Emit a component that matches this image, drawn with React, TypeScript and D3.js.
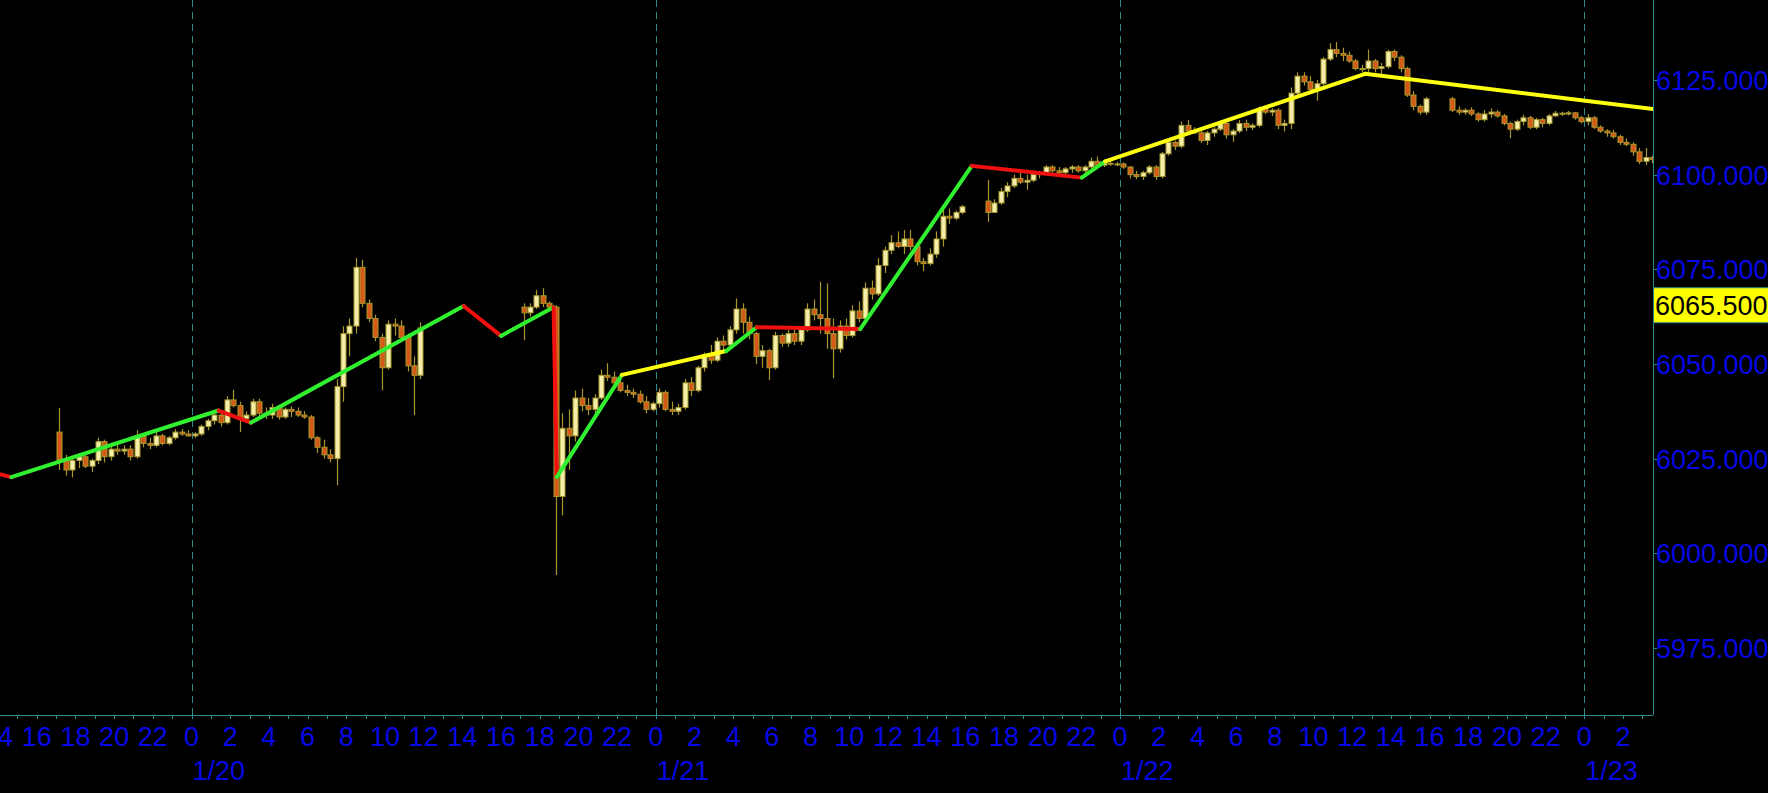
import React from "react";
import * as d3 from "d3";

// ---------- DATA ----------
// 20-minute OHLC bars, one array per trading session: [open, high, low, close]
const session1Start = "2025-01-19 17:00";
const session1Bars: number[][] = [
  [6032, 6038.4, 6022, 6024.5],
  [6024.5, 6026, 6020.5, 6022],
  [6022, 6025.5, 6020, 6024.5],
  [6024.5, 6026.5, 6022.5, 6025.5],
  [6025.5, 6026.5, 6022.5, 6023],
  [6023, 6025, 6021.5, 6024.5],
  [6024.5, 6030.5, 6023.5, 6029.5],
  [6029.5, 6030, 6024, 6025.5],
  [6025.5, 6028.5, 6024.5, 6027.5],
  [6027.5, 6029, 6026, 6027],
  [6027, 6028.5, 6026, 6027.5],
  [6027.5, 6028.5, 6024.5, 6025.5],
  [6025.5, 6032.5, 6025, 6031],
  [6031, 6031.5, 6028, 6029],
  [6029, 6030.5, 6027.5, 6028.5],
  [6028.5, 6032, 6028, 6031],
  [6031, 6031.5, 6028.5, 6029],
  [6029, 6031, 6028.5, 6030.5],
  [6030.5, 6032.8, 6030, 6032],
  [6032, 6032.8, 6031, 6031.5],
  [6031.5, 6032.5, 6030.8, 6031],
  [6031, 6032, 6030.5, 6031.5],
  [6031.5, 6034, 6031, 6033.5],
  [6033.5, 6035.5, 6032.5, 6035],
  [6035, 6037.5, 6034, 6036.5],
  [6036.5, 6037, 6033.5, 6034.5],
  [6034.5, 6041.5, 6034, 6040.5],
  [6040.5, 6043.2, 6038.5, 6039],
  [6039, 6040, 6032, 6035.5],
  [6035.5, 6037.5, 6034.5, 6036.5],
  [6036.5, 6040.8, 6036, 6040],
  [6040, 6040.8, 6036, 6037],
  [6037, 6038.5, 6035.5, 6036.5],
  [6036.5, 6039.5, 6035.5, 6038.5],
  [6038.5, 6039, 6035.3, 6036],
  [6036, 6038.5, 6035.5, 6038],
  [6038, 6038.8, 6036, 6037.5],
  [6037.5, 6038.5, 6036, 6036.5],
  [6036.5, 6037.5, 6035.5, 6036],
  [6036, 6036.5, 6030, 6030.5],
  [6030.5, 6031, 6026.5, 6028],
  [6028, 6030, 6025, 6026],
  [6026, 6027.5, 6024, 6025],
  [6025, 6046, 6018, 6044],
  [6044, 6060, 6040, 6058],
  [6058, 6062, 6052, 6060],
  [6060, 6078, 6058, 6075.5],
  [6075.5, 6077.5, 6065, 6066],
  [6066, 6067, 6061, 6062],
  [6062, 6063, 6056, 6057],
  [6057, 6058, 6043, 6049],
  [6049, 6061.5, 6048.5, 6060.5],
  [6060.5, 6062, 6057.5, 6060],
  [6060, 6061.5, 6056, 6057],
  [6057, 6058, 6048, 6049.5],
  [6049.5, 6052, 6036.5, 6047],
  [6047, 6061, 6046, 6059.5],
];

const session2Start = "2025-01-20 17:00";
const session2Bars: number[][] = [
  [6065, 6066, 6056.3, 6063.5],
  [6063.5, 6066, 6062.5, 6065],
  [6065, 6069.5, 6064.5, 6068],
  [6068, 6070, 6065, 6066],
  [6066, 6066.5, 6064, 6065],
  [6065, 6065.5, 5994.3, 6015],
  [6015, 6037, 6010, 6033],
  [6033, 6038, 6022, 6031],
  [6031, 6043, 6029.5, 6041],
  [6041, 6043.5, 6037.5, 6039],
  [6039, 6041, 6036.5, 6038],
  [6038, 6042, 6037, 6041],
  [6041, 6048.5, 6040.5, 6047],
  [6047, 6050.2, 6045.5, 6046.5],
  [6046.5, 6048, 6044.5, 6045],
  [6045, 6047, 6042.5, 6043],
  [6043, 6044.5, 6041.5, 6042.5],
  [6042.5, 6043.5, 6041, 6042],
  [6042, 6043, 6039.5, 6040],
  [6040, 6041.5, 6037, 6038],
  [6038, 6040, 6037.5, 6039.5],
  [6039.5, 6043.5, 6038.5, 6042.5],
  [6042.5, 6043, 6037.5, 6038],
  [6038, 6040, 6036.5, 6037.5],
  [6037.5, 6039.5, 6036.5, 6038.5],
  [6038.5, 6046, 6038, 6045],
  [6045, 6046.5, 6041.5, 6043],
  [6043, 6049.5, 6042.5, 6049],
  [6049, 6053, 6048, 6052.5],
  [6052.5, 6055, 6050, 6051],
  [6051, 6057, 6050.5, 6056],
  [6056, 6057.5, 6053.5, 6055],
  [6055, 6060, 6054, 6059],
  [6059, 6067.3, 6058, 6064.5],
  [6064.5, 6066, 6058, 6061],
  [6061, 6062.5, 6056.5, 6058],
  [6058, 6058.5, 6050, 6052],
  [6052, 6055, 6049, 6053.5],
  [6053.5, 6054, 6045.8, 6049],
  [6049, 6058.5, 6048.5, 6057.5],
  [6057.5, 6058, 6054.5, 6055.5],
  [6055.5, 6059, 6054.5, 6058],
  [6058, 6059, 6055, 6056],
  [6056, 6059.5, 6055, 6059],
  [6059, 6066, 6058.5, 6064.5],
  [6064.5, 6067, 6061.5, 6063],
  [6063, 6071.7, 6058, 6062],
  [6062, 6071.3, 6054, 6058],
  [6058, 6062, 6046.2, 6054],
  [6054, 6061.5, 6053, 6060],
  [6060, 6062, 6056.5, 6057.5],
  [6057.5, 6065.5, 6057, 6064],
  [6064, 6066.5, 6061, 6062],
  [6062, 6071.5, 6061.5, 6070],
  [6070, 6072, 6067, 6068.5],
  [6068.5, 6078, 6068, 6076],
  [6076, 6081, 6074, 6080],
  [6080, 6084, 6079, 6082],
  [6082, 6085, 6080.5, 6081],
  [6081, 6085.3, 6079, 6083],
  [6083, 6085.4, 6080, 6081],
  [6081, 6081.5, 6076, 6077],
  [6077, 6078, 6074.5, 6076.5],
  [6076.5, 6080.5, 6076, 6079],
  [6079, 6085, 6078, 6083],
  [6083, 6090.7, 6081, 6089],
  [6089, 6091, 6087, 6088.5],
  [6088.5, 6090.5, 6088, 6090],
  [6090, 6092, 6089.5, 6091.5],
];

const session3Start = "2025-01-21 17:00";
const session3Bars: number[][] = [
  [6093, 6098.6, 6087.5, 6090],
  [6090, 6093.5, 6090, 6092.5],
  [6092.5, 6096.5, 6092, 6095.5],
  [6095.5, 6098, 6094, 6097],
  [6097, 6100, 6096.5, 6099],
  [6099, 6101.5, 6097.5, 6098],
  [6098, 6100, 6096, 6098.5],
  [6098.5, 6100.5, 6098, 6100],
  [6100, 6101, 6099, 6100.5],
  [6100.5, 6102.5, 6100, 6102],
  [6102, 6102.5, 6100.5, 6101],
  [6101, 6102, 6099.5, 6100.5],
  [6100.5, 6102, 6100, 6101.5],
  [6101.5, 6102.5, 6100.5, 6102],
  [6102, 6102.5, 6100.5, 6101],
  [6101, 6102.5, 6100, 6102],
  [6102, 6104.5, 6101.5, 6103.5],
  [6103.5, 6104.8, 6102, 6102.5],
  [6102.5, 6103.5, 6102, 6103],
  [6103, 6103.5, 6102.3, 6102.8],
  [6102.8, 6103.3, 6102.3, 6102.8],
  [6102.8, 6103.2, 6101.5, 6102],
  [6102, 6102.3, 6099, 6100],
  [6100, 6101, 6098.8, 6099.5],
  [6099.5, 6101, 6098.6, 6100.5],
  [6100.5, 6102.5, 6100, 6102],
  [6102, 6102.5, 6098.6, 6099.5],
  [6099.5, 6106, 6099, 6105.5],
  [6105.5, 6109.2, 6105, 6108.5],
  [6108.5, 6109, 6106.5, 6107.5],
  [6107.5, 6114, 6107, 6113],
  [6113, 6114.4, 6110.5, 6111.5],
  [6111.5, 6112.5, 6110.8, 6111],
  [6111, 6111.5, 6108.3, 6109],
  [6109, 6111.5, 6107.8, 6111],
  [6111, 6112.5, 6110, 6112],
  [6112, 6114.2, 6111.5, 6113.5],
  [6113.5, 6114, 6109.5, 6110.5],
  [6110.5, 6112, 6108.7, 6111.5],
  [6111.5, 6114.4, 6111, 6113.5],
  [6113.5, 6114.5, 6111.5, 6112.5],
  [6112.5, 6113.5, 6111.8, 6113],
  [6113, 6118, 6112.5, 6117.5],
  [6117.5, 6118.2, 6116, 6116.5],
  [6116.5, 6117.5, 6115.5, 6117],
  [6117, 6117.5, 6112, 6113],
  [6113, 6114.5, 6111.4, 6113.5],
  [6113.5, 6123, 6112, 6121.5],
  [6121.5, 6127, 6121, 6126],
  [6126, 6127, 6123.5, 6124.5],
  [6124.5, 6126, 6121.5, 6122.5],
  [6122.5, 6125, 6119.5, 6124],
  [6124, 6131, 6123.5, 6130.5],
  [6130.5, 6134.7, 6130, 6133],
  [6133, 6135, 6131, 6132],
  [6132, 6133.5, 6130, 6131.5],
  [6131.5, 6132.5, 6129.5, 6130],
  [6130, 6130.5, 6127.5, 6128],
  [6128, 6129, 6127, 6128],
  [6128, 6133, 6126.8, 6130],
  [6130, 6130.5, 6127, 6128],
  [6128, 6129.5, 6126.5, 6128.5],
  [6128.5, 6133, 6128, 6132.5],
  [6132.5, 6133, 6130, 6131],
  [6131, 6131.5, 6127, 6128],
  [6128, 6128.5, 6120.5, 6121],
  [6121, 6122, 6117, 6118],
  [6118, 6118.5, 6115.8, 6116.5],
  [6116.5, 6120.5, 6115.8, 6120],
];

const session4Start = "2025-01-22 17:00";
const session4Bars: number[][] = [
  [6120, 6120.5, 6116.5, 6117],
  [6117, 6118, 6115.8, 6116.5],
  [6116.5, 6117.5, 6115.8, 6117],
  [6117, 6117.8, 6115.5, 6116],
  [6116, 6116.5, 6114, 6114.5],
  [6114.5, 6117, 6114, 6116],
  [6116, 6117.5, 6115, 6116.5],
  [6116.5, 6117, 6115, 6115.5],
  [6115.5, 6116, 6113, 6113.5],
  [6113.5, 6114, 6109.6, 6112],
  [6112, 6114.5, 6111.5, 6114],
  [6114, 6115.8, 6113, 6115],
  [6115, 6115.5, 6112, 6112.5],
  [6112.5, 6115, 6112, 6114.5],
  [6114.5, 6115, 6112.5, 6113.5],
  [6113.5, 6116, 6113, 6115.5],
  [6115.5, 6116.8, 6115.3, 6116.2],
  [6116.2, 6116.6, 6115.5, 6116],
  [6116, 6116.8, 6115.6, 6116.3],
  [6116.3, 6116.5, 6114.5, 6115],
  [6115, 6115.5, 6113.5, 6114],
  [6114, 6116, 6113, 6115],
  [6115, 6115.5, 6112, 6112.5],
  [6112.5, 6113, 6111, 6111.5],
  [6111.5, 6112, 6110, 6111],
  [6111, 6111.8, 6109.5, 6110],
  [6110, 6110.5, 6107.8, 6108.5],
  [6108.5, 6109.5, 6107.5, 6108],
  [6108, 6108.5, 6105, 6106],
  [6106, 6107, 6102.8, 6103.5],
  [6103.5, 6107, 6102.5, 6104.5],
  [6104.5, 6105, 6103, 6104],
];

// ZigZag swing points and the colour of each leg
const zigzagTimes = [
  "2025-01-19 14:00", "2025-01-19 14:41", "2025-01-20 01:24", "2025-01-20 03:04",
  "2025-01-20 14:04", "2025-01-20 16:00", "2025-01-20 18:43", "2025-01-20 18:53",
  "2025-01-20 22:15", "2025-01-21 03:38", "2025-01-21 05:13", "2025-01-21 10:34",
  "2025-01-21 16:20", "2025-01-21 22:01", "2025-01-21 23:14", "2025-01-22 12:40",
  "2025-01-23 03:34",
];
const zigzagPrices = [
  6021.0, 6020.1, 6037.7, 6034.5, 6065.3, 6057.4, 6065.0, 6020.1, 6047.1,
  6053.4, 6059.7, 6059.2, 6102.3, 6099.2, 6103.5, 6126.6, 6117.3,
];
const zigzagLegColors = [
  "red", "green", "red", "green", "red", "green", "red", "green",
  "yellow", "green", "red", "green", "red", "green", "yellow", "yellow",
];

const yTickValues = [5975, 6000, 6025, 6050, 6075, 6100, 6125];
const lastPrice = 6065.5;
const viewStart = "2025-01-19 14:06";
const viewEnd = "2025-01-23 03:33";
const priceDomain = [5957.3, 6146.1];

// ---------- STYLE ----------
const W = 1768;
const H = 793;
const plotRight = 1653;
const plotBottom = 715;
const AXIS = "#2b8a8a";
const LABEL = "#0808e6";
const FONT = "'Liberation Sans', Arial, sans-serif";
const FS = 27;
const legColor: Record<string, string> = {
  red: "#f01010",
  green: "#30f030",
  yellow: "#ffff10",
};

const parse = d3.timeParse("%Y-%m-%d %H:%M");

type Bar = { t: Date; o: number; h: number; l: number; c: number };

function buildBars(start: string, rows: number[][]): Bar[] {
  const s = parse(start) as Date;
  return rows.map((r, i) => ({
    t: d3.timeMinute.offset(s, i * 20 + 10),
    o: r[0],
    h: r[1],
    l: r[2],
    c: r[3],
  }));
}

export default function App() {
  const x = d3
    .scaleTime()
    .domain([parse(viewStart) as Date, parse(viewEnd) as Date])
    .range([0, plotRight]);
  const y = d3.scaleLinear().domain(priceDomain).range([plotBottom, 0]);

  const bars: Bar[] = [
    ...buildBars(session1Start, session1Bars),
    ...buildBars(session2Start, session2Bars),
    ...buildBars(session3Start, session3Bars),
    ...buildBars(session4Start, session4Bars),
  ];

  const [d0, d1] = x.domain();
  const hours = d3.timeHour.range(d3.timeHour.floor(d0), d1);
  const days = d3.timeDay.range(d3.timeDay.ceil(d0), d1);
  const fmtDay = d3.timeFormat("%-m/%-d");
  const fmtPrice = d3.format(".3f");

  const zz = zigzagTimes.map((s, i) => ({ x: x(parse(s) as Date), y: y(zigzagPrices[i]) }));

  const bodyW = 5;

  return (
    <svg
      width={W}
      height={H}
      style={{ position: "fixed", left: 0, top: 0, background: "#000" }}
    >
      <rect x={0} y={0} width={W} height={H} fill="#000" />
      <defs>
        <clipPath id="plot">
          <rect x={0} y={0} width={plotRight} height={plotBottom} />
        </clipPath>
      </defs>

      {/* day separators */}
      {days.map((d, i) => (
        <line
          key={"g" + i}
          x1={Math.round(x(d)) + 0.5}
          x2={Math.round(x(d)) + 0.5}
          y1={0}
          y2={plotBottom}
          stroke={AXIS}
          strokeWidth={1}
          strokeDasharray="7,5"
        />
      ))}

      <g clipPath="url(#plot)">
        {bars.map((b, i) => {
          const cx = Math.round(x(b.t)) + 0.5;
          const up = b.c >= b.o;
          const top = y(Math.max(b.o, b.c));
          const bot = y(Math.min(b.o, b.c));
          return (
            <g key={"b" + i}>
              <line x1={cx} x2={cx} y1={y(b.h)} y2={y(b.l)} stroke="#a8982c" strokeWidth={1.2} />
              <rect
                x={cx - bodyW / 2}
                y={top}
                width={bodyW}
                height={Math.max(1, bot - top)}
                fill={up ? "#f4eeaa" : "#d55a1a"}
                stroke="#a8982c"
                strokeWidth={1}
              />
            </g>
          );
        })}

        {zz.slice(1).map((p, i) => (
          <line
            key={"z" + i}
            x1={zz[i].x}
            y1={zz[i].y}
            x2={p.x}
            y2={p.y}
            stroke={legColor[zigzagLegColors[i]]}
            strokeWidth={4}
            strokeLinecap="round"
          />
        ))}
      </g>

      {/* axes */}
      <line x1={plotRight + 0.5} x2={plotRight + 0.5} y1={0} y2={plotBottom} stroke={AXIS} strokeWidth={1} />
      <line x1={0} x2={plotRight} y1={plotBottom + 0.5} y2={plotBottom + 0.5} stroke={AXIS} strokeWidth={1} />

      {hours.map((h, i) => {
        const hx = Math.round(x(h)) + 0.5;
        if (hx < 0 || hx > plotRight) return null;
        return (
          <line key={"ht" + i} x1={hx} x2={hx} y1={plotBottom} y2={plotBottom + 4} stroke={AXIS} strokeWidth={1} />
        );
      })}
      {hours
        .filter((h) => h.getHours() % 2 === 0 && x(h) < plotRight - 20)
        .map((h, i) => (
          <text
            key={"hl" + i}
            x={x(h)}
            y={746}
            fill={LABEL}
            fontFamily={FONT}
            fontSize={FS}
            textAnchor="middle"
          >
            {h.getHours()}
          </text>
        ))}
      {days.map((d, i) => (
        <text key={"dl" + i} x={x(d) + 1} y={780} fill={LABEL} fontFamily={FONT} fontSize={FS}>
          {fmtDay(d)}
        </text>
      ))}

      {yTickValues.map((v) => (
        <g key={"y" + v}>
          <line x1={plotRight} x2={plotRight + 4} y1={Math.round(y(v)) + 0.5} y2={Math.round(y(v)) + 0.5} stroke={AXIS} />
          <text x={plotRight + 3} y={y(v) + 10} fill={LABEL} fontFamily={FONT} fontSize={FS}>
            {fmtPrice(v)}
          </text>
        </g>
      ))}

      <rect
        x={plotRight + 0.5}
        y={y(lastPrice) - 17.5}
        width={W - plotRight}
        height={35}
        fill="#ffff00"
        stroke={AXIS}
        strokeWidth={1}
      />
      <text x={plotRight + 2} y={y(lastPrice) + 10} fill="#000" fontFamily={FONT} fontSize={FS}>
        {fmtPrice(lastPrice)}
      </text>
    </svg>
  );
}
